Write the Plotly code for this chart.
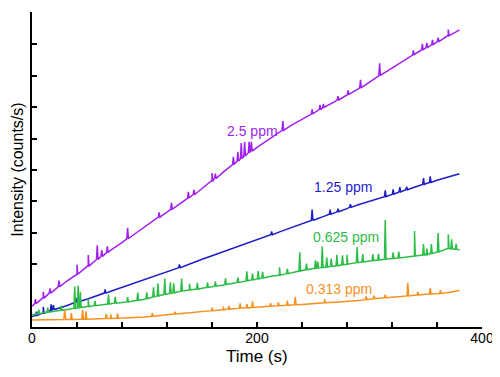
import plotly.graph_objects as go

# Baseline sample times (s)
base_t = list(range(0, 390, 10))

# Baselines (arbitrary intensity units; 1 unit = one y tick spacing)
purple_base = [0.66, 0.92, 1.18, 1.44, 1.68, 1.94, 2.20, 2.45, 2.69, 2.93, 3.18, 3.43, 3.66, 3.89, 4.12,
               4.38, 4.65, 4.93, 5.20, 5.47, 5.72, 5.96, 6.20, 6.41, 6.61, 6.80, 7.00, 7.19, 7.39, 7.58,
               7.80, 8.02, 8.24, 8.46, 8.68, 8.88, 9.07, 9.27, 9.46]
blue_base = [0.33, 0.44, 0.56, 0.67, 0.79, 0.90, 1.02, 1.14, 1.26, 1.38, 1.51, 1.63, 1.76, 1.88, 2.01,
             2.14, 2.27, 2.40, 2.52, 2.65, 2.78, 2.90, 3.03, 3.15, 3.28, 3.40, 3.53, 3.65, 3.77, 3.89,
             4.00, 4.11, 4.22, 4.34, 4.45, 4.56, 4.67, 4.78, 4.88]
green_base = [0.38, 0.45, 0.50, 0.55, 0.60, 0.65, 0.70, 0.74, 0.78, 0.83, 0.88, 0.98, 1.05, 1.12, 1.18,
              1.23, 1.28, 1.34, 1.40, 1.46, 1.52, 1.60, 1.65, 1.72, 1.80, 1.86, 1.90, 1.95, 2.00, 2.05,
              2.10, 2.14, 2.18, 2.22, 2.26, 2.30, 2.38, 2.50, 2.45]
orange_base = [0.22, 0.23, 0.22, 0.24, 0.24, 0.25, 0.26, 0.27, 0.28, 0.30, 0.32, 0.35, 0.38, 0.42, 0.45,
               0.49, 0.52, 0.55, 0.58, 0.61, 0.63, 0.65, 0.68, 0.70, 0.72, 0.74, 0.77, 0.79, 0.81, 0.84,
               0.88, 0.92, 0.95, 0.98, 1.01, 1.04, 1.06, 1.10, 1.16]

# Spikes: time, base value, peak value
purple_spike_t = [3, 10, 16, 24, 40, 50, 58, 62, 67, 85, 113, 124, 139, 144, 160, 163, 179, 183, 186, 189,
                  193, 195, 223, 249, 256, 259, 272, 281, 292, 309, 339, 347, 351, 356, 361, 370]
purple_spike_b = [0.74, 0.92, 1.08, 1.28, 1.68, 1.94, 2.15, 2.25, 2.37, 2.81, 3.50, 3.75, 4.10, 4.22, 4.65,
                  4.73, 5.17, 5.28, 5.36, 5.44, 5.55, 5.60, 6.26, 6.78, 6.92, 6.98, 7.23, 7.41, 7.62, 8.00,
                  8.66, 8.82, 8.90, 8.99, 9.09, 9.27]
purple_spike_p = [0.89, 1.12, 1.23, 1.48, 1.98, 2.29, 2.60, 2.45, 2.57, 3.16, 3.65, 3.95, 4.30, 4.37, 4.90,
                  4.88, 5.42, 5.58, 5.86, 5.89, 5.90, 5.90, 6.56, 6.93, 7.07, 7.10, 7.35, 7.53, 7.87, 8.40,
                  8.81, 9.02, 9.05, 9.14, 9.21, 9.47]

blue_spike_t = [4, 10, 17, 19, 39, 65, 131, 213, 249, 265, 272, 283, 314, 321, 327, 333, 348, 354]
blue_spike_b = [0.37, 0.44, 0.52, 0.55, 0.78, 1.08, 1.89, 2.94, 3.39, 3.59, 3.67, 3.81, 4.15, 4.23, 4.30,
                4.37, 4.54, 4.60]
blue_spike_p = [0.49, 0.64, 0.72, 0.70, 0.93, 1.20, 1.99, 3.04, 3.74, 3.74, 3.77, 3.91, 4.35, 4.38, 4.45,
                4.47, 4.74, 4.80]

green_spike_t = [6, 14, 26, 38, 41, 43, 50, 56, 68, 74, 85, 94, 102, 108, 112, 118, 123, 126, 133, 140,
                 147, 156, 163, 172, 183, 191, 196, 201, 205, 220, 227, 238, 244, 252, 254, 258, 262, 266,
                 271, 276, 280, 289, 294, 303, 308, 314, 321, 326, 340, 348, 351, 355, 361, 370, 373, 377]
green_spike_b = [0.42, 0.47, 0.53, 0.59, 0.61, 0.62, 0.65, 0.68, 0.73, 0.76, 0.80, 0.85, 0.90, 0.96, 0.99,
                 1.04, 1.07, 1.09, 1.14, 1.18, 1.21, 1.26, 1.30, 1.35, 1.42, 1.47, 1.50, 1.53, 1.56, 1.65,
                 1.70, 1.78, 1.82, 1.87, 1.88, 1.89, 1.91, 1.93, 1.95, 1.98, 2.00, 2.05, 2.07, 2.11, 2.13,
                 2.16, 2.18, 2.20, 2.26, 2.29, 2.30, 2.34, 2.39, 2.50, 2.49, 2.47]
green_spike_p = [0.55, 0.62, 0.68, 1.29, 1.31, 1.12, 0.90, 0.83, 1.03, 0.96, 0.95, 1.10, 1.10, 1.26, 1.39,
                 1.54, 1.42, 1.39, 1.54, 1.38, 1.41, 1.41, 1.45, 1.55, 1.57, 1.77, 1.70, 1.78, 1.76, 1.90,
                 1.85, 2.38, 2.02, 2.12, 2.08, 2.56, 2.21, 2.18, 2.30, 2.28, 2.30, 2.55, 2.32, 2.31, 2.33,
                 3.41, 2.38, 2.40, 3.06, 2.64, 2.50, 2.64, 2.99, 2.95, 2.79, 2.65]

orange_spike_t = [29, 35, 45, 48, 66, 70, 76, 107, 127, 160, 170, 175, 185, 191, 196, 212, 219, 227, 234,
                  260, 297, 304, 314, 334, 343, 354, 363]
orange_spike_b = [0.24, 0.24, 0.25, 0.25, 0.27, 0.27, 0.28, 0.34, 0.41, 0.52, 0.55, 0.57, 0.60, 0.61, 0.62,
                  0.66, 0.68, 0.69, 0.71, 0.77, 0.87, 0.90, 0.93, 0.99, 1.02, 1.05, 1.07]
orange_spike_p = [0.54, 0.44, 0.55, 0.50, 0.42, 0.40, 0.43, 0.44, 0.49, 0.62, 0.65, 0.67, 0.75, 0.73, 0.82,
                  0.76, 0.78, 0.84, 0.96, 0.89, 0.97, 1.00, 1.03, 1.41, 1.12, 1.25, 1.17]

labels = ["2.5 ppm", "1.25 ppm", "0.625 ppm", "0.313 ppm"]
colors = ["#a01ff0", "#1c1cc8", "#2cbd46", "#f7901e"]
label_t = [196, 276, 279, 273]
label_v = [6.25, 4.45, 2.85, 1.2]
x_ticks = [0, 200, 400]

FONT = "Liberation Sans, Arial, sans-serif"


def build(base, st, sb, sp):
    pts = list(zip(base_t, base))
    for t, b, p in zip(st, sb, sp):
        pts += [(t - 0.7, b), (t, p), (t + 0.7, b)]
    pts.sort(key=lambda q: q[0])
    return [q[0] for q in pts], [q[1] for q in pts]


series = [
    (purple_base, purple_spike_t, purple_spike_b, purple_spike_p),
    (blue_base, blue_spike_t, blue_spike_b, blue_spike_p),
    (green_base, green_spike_t, green_spike_b, green_spike_p),
    (orange_base, orange_spike_t, orange_spike_b, orange_spike_p),
]

fig = go.Figure()
for (b, st, sb, sp), name, c in zip(series, labels, colors):
    xs, ys = build(b, st, sb, sp)
    fig.add_trace(go.Scatter(x=xs, y=ys, mode="lines", name=name,
                             line=dict(color=c, width=1.5), showlegend=False))

for name, c, t, v in zip(labels, colors, label_t, label_v):
    fig.add_annotation(x=t, y=v, text=name, showarrow=False,
                       font=dict(color=c, size=14, family=FONT))

# Axis titles
fig.add_annotation(xref="paper", yref="paper", x=0.5, y=-0.058, yanchor="top",
                   text="Time (s)", showarrow=False, font=dict(size=17, family=FONT, color="black"))
fig.add_annotation(xref="paper", yref="paper", x=-0.033, y=0.5, xanchor="center",
                   text="Intensity (counts/s)", textangle=-90, showarrow=False,
                   font=dict(size=16, family=FONT, color="black"))

# The page body adds an 8 px offset, so the figure is sized/margined to compensate.
fig.update_layout(
    width=492, height=369,
    margin=dict(l=24, r=18, t=4, b=50),
    paper_bgcolor="white", plot_bgcolor="white",
    font=dict(family=FONT, color="black"),
)
fig.update_xaxes(range=[0, 400], tickvals=x_ticks, ticktext=[str(v) for v in x_ticks],
                 ticks="inside", ticklen=5, tickwidth=1.5, tickcolor="black",
                 minor=dict(dtick=40, ticks="inside", ticklen=5, tickwidth=1.5, tickcolor="black"),
                 showline=True, linecolor="black", linewidth=2, showgrid=False, zeroline=False,
                 tickfont=dict(size=14), ticklabelstandoff=-3, automargin=False)
fig.update_yaxes(range=[0, 10.03], tickvals=[2, 3, 4, 5, 6, 7, 8, 9], showticklabels=False,
                 ticks="inside", ticklen=5, tickwidth=1.5, tickcolor="black",
                 showline=True, linecolor="black", linewidth=2, showgrid=False, zeroline=False,
                 automargin=False)

fig.write_html("out.html")
